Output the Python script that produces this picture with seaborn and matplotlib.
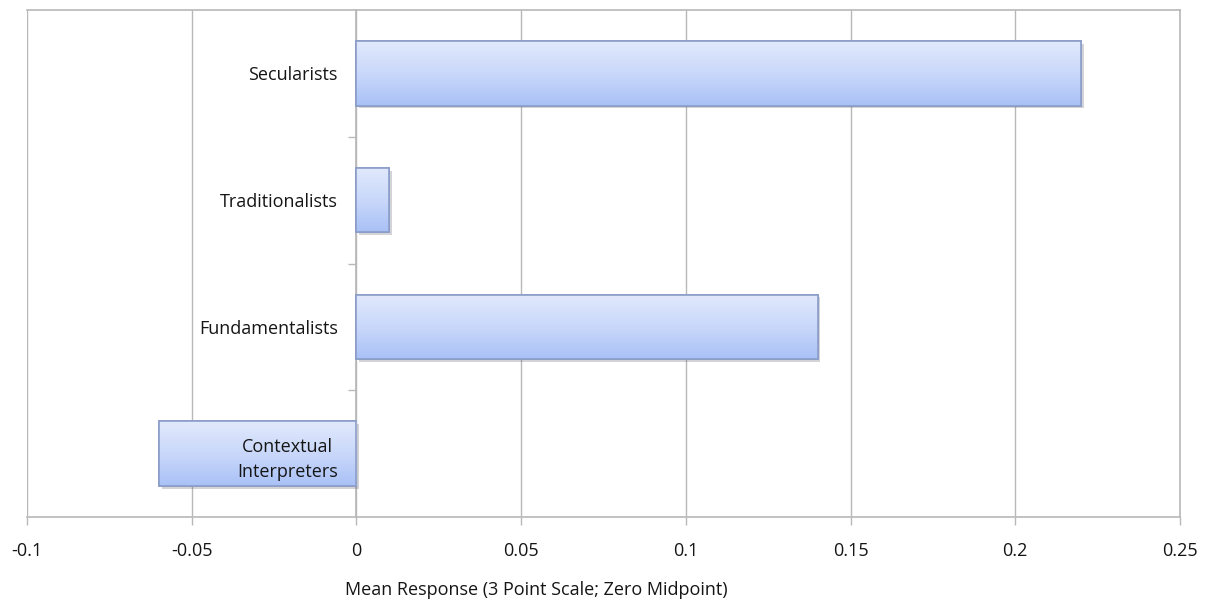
import matplotlib
matplotlib.use("Agg")
import matplotlib.pyplot as plt
import matplotlib.patheffects as pe
from matplotlib.colors import LinearSegmentedColormap
import numpy as np
import pandas as pd
import seaborn as sns

categories = ["Secularists", "Traditionalists", "Fundamentalists", "Contextual\nInterpreters"]
values = [0.22, 0.01, 0.14, -0.06]
xticks = [-0.1, -0.05, 0, 0.05, 0.1, 0.15, 0.2, 0.25]
xtick_labels = ["-0.1", "-0.05", "0", "0.05", "0.1", "0.15", "0.2", "0.25"]
xlabel = "Mean Response (3 Point Scale; Zero Midpoint)"

sns.set_theme(style="white")
plt.rcParams["font.family"] = ["Open Sans", "DejaVu Sans"]

df = pd.DataFrame({"group": categories, "value": values})

fig = plt.figure(figsize=(12.12, 6.03), dpi=100)
ax = fig.add_axes([27/1212, 1-517/603, (1180-27)/1212, (517-10)/603])

sns.barplot(data=df, y="group", x="value", orient="h", width=0.51,
            color="#b8cdf8", edgecolor="#8a9dcc", linewidth=1.2, ax=ax, zorder=3)

grid_c = "#b8b8b8"
txt_c = "#151515"
ax.set_xlim(-0.1, 0.25)
ax.set_ylim(3.5, -0.5)
ax.set_xticks(xticks)
ax.set_xticklabels(xtick_labels, fontsize=13, color=txt_c)
ax.xaxis.grid(True, color=grid_c, linewidth=1.0, zorder=0)
ax.yaxis.grid(False)
ax.set_axisbelow(True)
ax.tick_params(axis="x", direction="out", length=6, width=1, color=grid_c, pad=12, bottom=True)

# category axis sits at zero
ax.spines["left"].set_position(("data", 0))
ax.spines["left"].set_color(grid_c)
for s in ["top", "right", "bottom"]:
    ax.spines[s].set_color(grid_c)
    ax.spines[s].set_linewidth(1.2)
ax.axvline(-0.1, color=grid_c, linewidth=1.2, zorder=1)
ax.set_yticks(range(len(categories)))
ax.set_yticklabels(categories, multialignment="center", linespacing=1.55)
ax.set_yticks([0.5, 1.5, 2.5], minor=True)
ax.tick_params(axis="y", which="major", length=0, pad=13.5, labelsize=13, labelcolor=txt_c)
ax.tick_params(axis="y", which="minor", length=6, width=1, color=grid_c, direction="out", left=True)
ax.yaxis.set_zorder(10)
ax.set_ylabel("")
ax.set_xlabel("")

# gradient fill on bars
cmap = LinearSegmentedColormap.from_list("g", ["#e1e9fc", "#c9d8fa", "#a9c1f7"])
grad = np.linspace(0, 1, 256).reshape(-1, 1)
for p in ax.patches:
    x0, y0 = p.get_x(), p.get_y()
    w, h = p.get_width(), p.get_height()
    p.set_path_effects([pe.SimplePatchShadow(offset=(2, -2), alpha=0.25, shadow_rgbFace="#555566"), pe.Normal()])
    im = ax.imshow(grad, cmap=cmap, aspect="auto", extent=[x0, x0 + w, y0 + h, y0],
                   origin="upper", zorder=3.5)
    im.set_clip_path(p)
    border = plt.Rectangle((x0, y0), w, h, fill=False, ec="#8c9dc8", lw=1.2, zorder=3.6)
    ax.add_patch(border)

ax.set_xlim(-0.1, 0.25)
ax.set_ylim(3.5, -0.5)

fig.text(536/1212, 1-590/603, xlabel, ha="center", va="center", fontsize=13, color=txt_c)

fig.savefig("out.png", dpi=100)
